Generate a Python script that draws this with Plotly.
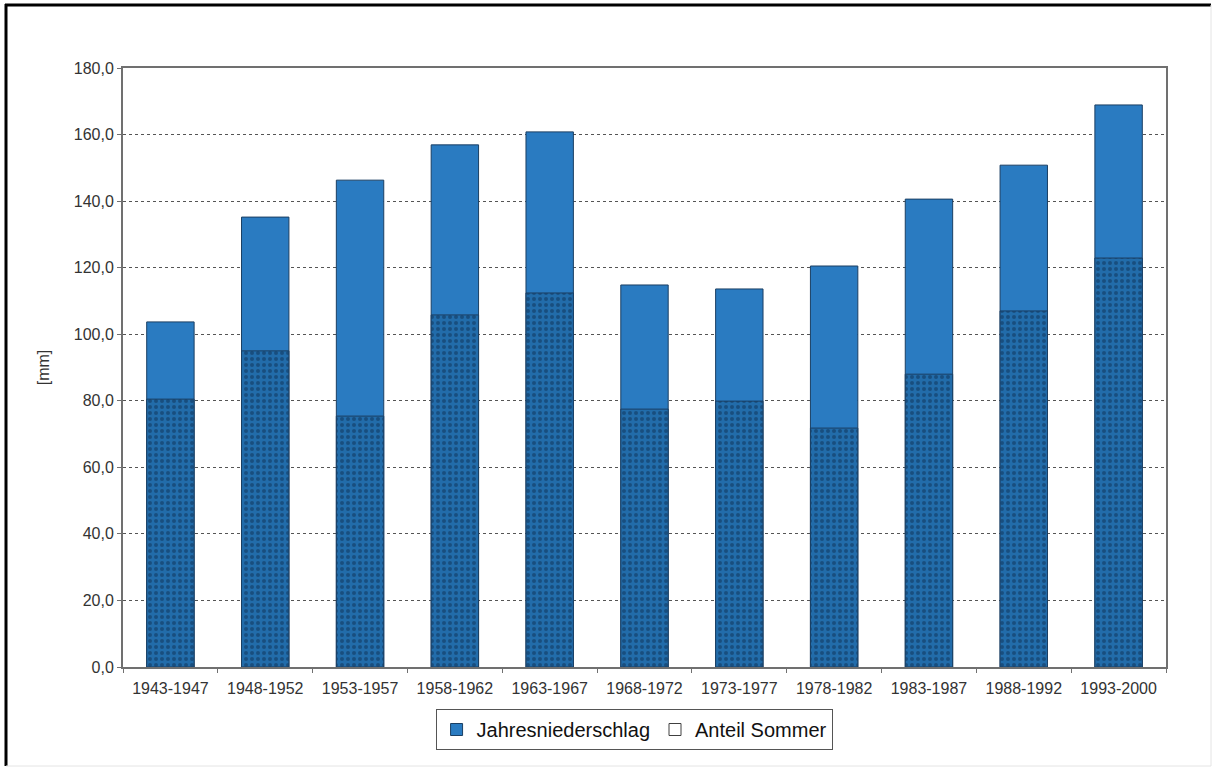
import plotly.graph_objects as go

categories = ["1943-1947", "1948-1952", "1953-1957", "1958-1962", "1963-1967",
              "1968-1972", "1973-1977", "1978-1982", "1983-1987", "1988-1992", "1993-2000"]
jahresniederschlag = [103.7, 135.2, 146.3, 156.9, 160.8, 114.8, 113.6, 120.5, 140.6, 150.8, 168.9]
anteil_sommer = [80.5, 95.0, 75.4, 105.8, 112.4, 77.5, 79.9, 71.8, 88.0, 107.0, 122.9]
y_ticks = [0, 20, 40, 60, 80, 100, 120, 140, 160, 180]

W, H = 1215, 771
L, R, T, B = 123, 1166, 68, 667

fig = go.Figure()
fig.add_trace(go.Bar(
    x=categories, y=jahresniederschlag, width=0.5, showlegend=False,
    marker=dict(color="#2a7bc1", line=dict(color="#1b3f63", width=1)),
))
fig.add_trace(go.Bar(
    x=categories, y=anteil_sommer, width=0.5, showlegend=False,
    marker=dict(color="#1f66a3", line=dict(color="#1b3f63", width=1),
                pattern=dict(shape=".", size=6, solidity=0.35,
                             fgcolor="#184e7f", bgcolor="#226caa", fillmode="replace")),
))
# legend-only entries
fig.add_trace(go.Bar(x=[categories[0]], y=[None], name="Jahresniederschlag",
                     marker=dict(color="#2a7bc1", line=dict(color="#1b3f63", width=1))))
fig.add_trace(go.Bar(x=[categories[0]], y=[None], name="Anteil Sommer",
                     marker=dict(color="#ffffff", line=dict(color="#404040", width=1))))

def px_x(p):
    return (p - L) / (R - L)

def px_y(p):
    return (B - p) / (B - T)

fig.add_shape(type="line", xref="paper", yref="paper",
              x0=px_x(6), x1=px_x(6), y0=px_y(4), y1=px_y(766),
              line=dict(color="black", width=3))
fig.add_shape(type="line", xref="paper", yref="paper",
              x0=px_x(5), x1=px_x(1211), y0=px_y(5), y1=px_y(5),
              line=dict(color="black", width=3))
fig.add_shape(type="line", xref="paper", yref="paper",
              x0=px_x(1211), x1=px_x(1211), y0=px_y(5), y1=px_y(766),
              line=dict(color="#e4e4e4", width=1))
fig.add_shape(type="line", xref="paper", yref="paper",
              x0=px_x(6), x1=px_x(1211), y0=px_y(766), y1=px_y(766),
              line=dict(color="#e4e4e4", width=1))

fig.update_layout(
    width=W, height=H,
    margin=dict(l=L, r=W - R, t=T, b=H - B),
    barmode="overlay",
    paper_bgcolor="white", plot_bgcolor="white",
    separators=",.",
    font=dict(family="Liberation Sans, Arial, sans-serif", color="#333333", size=16),
    legend=dict(orientation="h", x=0.49, xanchor="center", y=px_y(709), yanchor="top",
                bordercolor="#555555", borderwidth=1, font=dict(size=20, color="#111111"),
                itemwidth=30, traceorder="normal"),
    xaxis=dict(showline=True, linecolor="#707070", linewidth=2, mirror=True,
               ticks="outside", tickson="boundaries", ticklen=4, tickcolor="#707070",
               tickfont=dict(size=16), showgrid=False, ticklabelstandoff=6),
    yaxis=dict(range=[0, 180], tickvals=y_ticks, tickformat=".1f",
               showline=True, linecolor="#707070", linewidth=2, mirror=True,
               ticks="outside", ticklen=4, tickcolor="#707070",
               showgrid=True, gridcolor="#555555", gridwidth=1, griddash="3px,3px",
               tickfont=dict(size=16),
               title=dict(text="[mm]", font=dict(size=16), standoff=20)),
)

fig.write_html("out.html")
